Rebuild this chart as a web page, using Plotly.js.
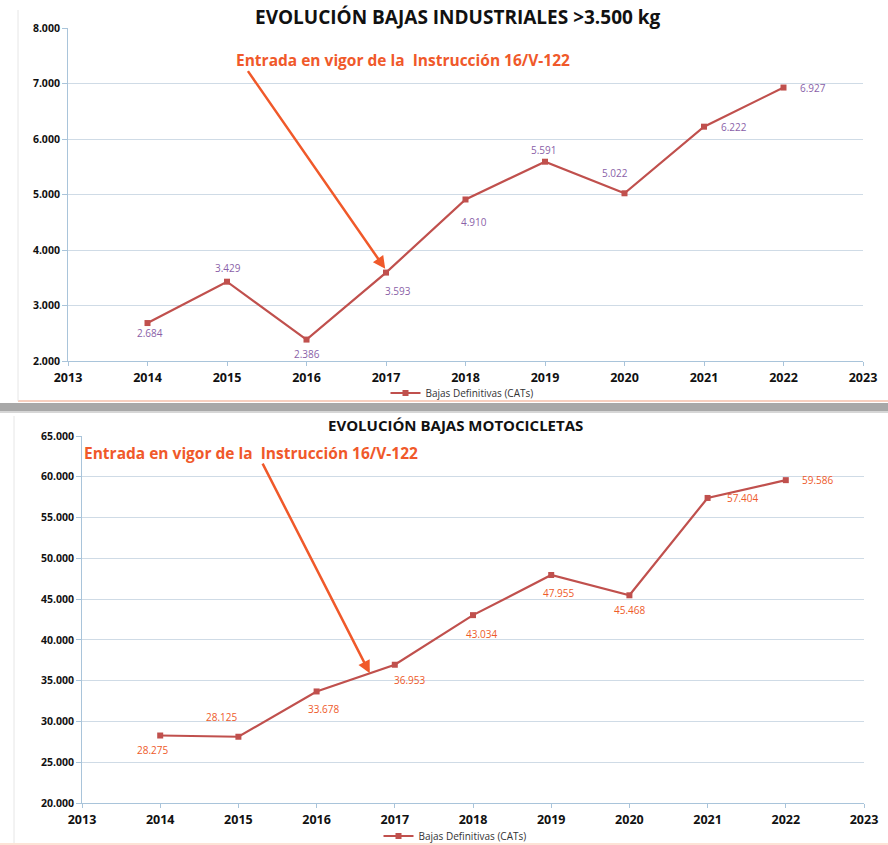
<!DOCTYPE html>
<html>
<head>
<meta charset="utf-8">
<script src="https://cdn.plot.ly/plotly-3.0.1.min.js"></script>
<style>html,body{margin:0;padding:0;background:#fff;}#chart{width:888px;height:845px;}</style>
</head>
<body>
<div id="chart"></div>
<script>
// ---- data ----
const years = [2014, 2015, 2016, 2017, 2018, 2019, 2020, 2021, 2022];
const industriales = [2684, 3429, 2386, 3593, 4910, 5591, 5022, 6222, 6927];
const motocicletas = [28275, 28125, 33678, 36953, 43034, 47955, 45468, 57404, 59586];
const seriesName = 'Bajas Definitivas (CATs)';
const title1 = 'EVOLUCIÓN BAJAS INDUSTRIALES >3.500 kg';
const title2 = 'EVOLUCIÓN BAJAS MOTOCICLETAS';
const noteText = 'Entrada en vigor de la  Instrucción 16/V-122';
const xTicks = [2013, 2014, 2015, 2016, 2017, 2018, 2019, 2020, 2021, 2022, 2023];
const yTicks1 = [2000, 3000, 4000, 5000, 6000, 7000, 8000];
const yTicks2 = [20000, 25000, 30000, 35000, 40000, 45000, 50000, 55000, 60000, 65000];

// ---- label offsets (pixels, style only) ----
const off1 = [[2,10],[1,-14],[0,14],[12,18],[8,23],[-1,-12],[-10,-20],[30,0],[29,0]];
const off2 = [[-8,14],[-17,-20],[7,18],[15,15],[8,19],[7,18],[0,15],[35,0],[32,0]];

const fmt = v => v.toString().replace(/\B(?=(\d{3})+(?!\d))/g, '.');

const H = 845, W = 888;
const py = p => 1 - p / H;
const px = p => p / W;

const FONT = 'Open Sans, sans-serif';
const lineColor = '#c0504d';
const labelColor1 = '#8a5fa8';
const labelColor2 = '#ee5a2a';
const arrowColor = '#f0592a';
const gridColor = '#cfdbe6';

const traces = [
  {
    x: years, y: industriales, type: 'scatter', mode: 'lines+markers',
    name: seriesName, legend: 'legend',
    line: {color: lineColor, width: 2.2},
    marker: {symbol: 'square', size: 6, color: lineColor},
    xaxis: 'x', yaxis: 'y', cliponaxis: false
  },
  {
    x: years, y: motocicletas, type: 'scatter', mode: 'lines+markers',
    name: seriesName, legend: 'legend2',
    line: {color: lineColor, width: 2.2},
    marker: {symbol: 'square', size: 6, color: lineColor},
    xaxis: 'x2', yaxis: 'y2', cliponaxis: false
  }
];

const xCommon = {
  range: [2013, 2023], tickvals: xTicks, ticktext: xTicks.map(String),
  showgrid: false, zeroline: false, showline: true, linecolor: '#a9c4da', linewidth: 1,
  ticks: 'outside', ticklen: 4, tickcolor: '#a9c4da', ticklabelstandoff: 1,
  tickfont: {family: FONT, size: 12.5, color: '#111', weight: 'bold'},
  fixedrange: true, automargin: false
};
const yCommon = {
  showgrid: true, gridcolor: gridColor, gridwidth: 1, zeroline: false,
  showline: true, linecolor: '#a9c4da', linewidth: 1,
  ticks: 'outside', ticklen: 5, tickcolor: '#a9c4da',
  tickfont: {family: FONT, size: 10.5, color: '#111', weight: 'bold'},
  fixedrange: true, automargin: false
};

const labelAnn = (vals, offs, xr, yr, color) => vals.map((v, i) => ({
  text: fmt(v), xref: xr, yref: yr, x: years[i], y: v, showarrow: false,
  xanchor: 'center', yanchor: 'middle', xshift: offs[i][0], yshift: -offs[i][1],
  font: {family: FONT, size: 10, color: color}
}));

const layout = {
  width: W, height: H,
  margin: {l: 0, r: 0, t: 0, b: 0, pad: 0, autoexpand: false},
  paper_bgcolor: '#ffffff', plot_bgcolor: 'rgba(0,0,0,0)',
  showlegend: true,
  xaxis: Object.assign({}, xCommon, {domain: [px(68), px(863)], anchor: 'y'}),
  yaxis: Object.assign({}, yCommon, {domain: [py(361), py(28)], anchor: 'x', range: [2000, 8000],
    tickvals: yTicks1, ticktext: yTicks1.map(fmt)}),
  xaxis2: Object.assign({}, xCommon, {domain: [px(82), px(864)], anchor: 'y2'}),
  yaxis2: Object.assign({}, yCommon, {domain: [py(803), py(436)], anchor: 'x2', range: [20000, 65000],
    tickvals: yTicks2, ticktext: yTicks2.map(fmt)}),
  legend: {orientation: 'h', x: px(462), xanchor: 'center', y: py(393), yanchor: 'middle',
    font: {family: FONT, size: 10, color: '#333'}, bgcolor: 'rgba(0,0,0,0)',
    itemwidth: 30, tracegroupgap: 0},
  legend2: {orientation: 'h', x: px(455), xanchor: 'center', y: py(836), yanchor: 'middle',
    font: {family: FONT, size: 10, color: '#333'}, bgcolor: 'rgba(0,0,0,0)',
    itemwidth: 30, tracegroupgap: 0},
  shapes: [
    {type: 'line', xref: 'paper', yref: 'paper', x0: px(18), x1: 1, y0: py(401), y1: py(401),
      line: {color: '#f0a080', width: 1.2}},
    {type: 'rect', xref: 'paper', yref: 'paper', x0: 0, x1: 1, y0: py(411), y1: py(403),
      fillcolor: '#a8a8a8', line: {width: 0}, layer: 'below'},
    {type: 'rect', xref: 'paper', yref: 'paper', x0: 0, x1: 1, y0: py(413), y1: py(411),
      fillcolor: '#d6d6d6', line: {width: 0}, layer: 'below'},
    {type: 'rect', xref: 'paper', yref: 'paper', x0: 0, x1: 1, y0: 0, y1: py(843),
      fillcolor: '#fde3d6', line: {width: 0}, layer: 'below'},
    {type: 'line', xref: 'paper', yref: 'paper', x0: px(18), x1: px(18), y0: py(401), y1: py(10),
      line: {color: '#e6e6e6', width: 1}},
    {type: 'line', xref: 'paper', yref: 'paper', x0: px(14), x1: px(14), y0: py(843), y1: py(416),
      line: {color: '#e6e6e6', width: 1}}
  ],
  annotations: [
    {text: title1, xref: 'paper', yref: 'paper', x: px(458), y: py(17), showarrow: false,
      xanchor: 'center', yanchor: 'middle',
      font: {family: FONT, size: 19, color: '#111', weight: 'bold'}},
    {text: title2, xref: 'paper', yref: 'paper', x: px(455), y: py(425), showarrow: false,
      xanchor: 'center', yanchor: 'middle',
      font: {family: FONT, size: 15, color: '#111', weight: 'bold'}},
    {text: noteText, xref: 'paper', yref: 'paper', x: px(403), y: py(60), showarrow: false,
      xanchor: 'center', yanchor: 'middle',
      font: {family: FONT, size: 15.5, color: arrowColor, weight: 'bold'}},
    {text: noteText, xref: 'paper', yref: 'paper', x: px(251), y: py(453), showarrow: false,
      xanchor: 'center', yanchor: 'middle',
      font: {family: FONT, size: 15.5, color: arrowColor, weight: 'bold'}},
    {text: '', xref: 'x', yref: 'y', x: 2016.99, y: 3660, axref: 'x', ayref: 'y', ax: 2015.25, ay: 7250,
      showarrow: true, arrowhead: 2, arrowsize: 1, arrowwidth: 2.5, arrowcolor: arrowColor},
    {text: '', xref: 'x2', yref: 'y2', x: 2016.68, y: 35900, axref: 'x2', ayref: 'y2', ax: 2015.3, ay: 61800,
      showarrow: true, arrowhead: 2, arrowsize: 1, arrowwidth: 2.5, arrowcolor: arrowColor}
  ].concat(labelAnn(industriales, off1, 'x', 'y', labelColor1))
   .concat(labelAnn(motocicletas, off2, 'x2', 'y2', labelColor2))
};

Plotly.newPlot('chart', traces, layout, {displayModeBar: false, staticPlot: true});
</script>
</body>
</html>
